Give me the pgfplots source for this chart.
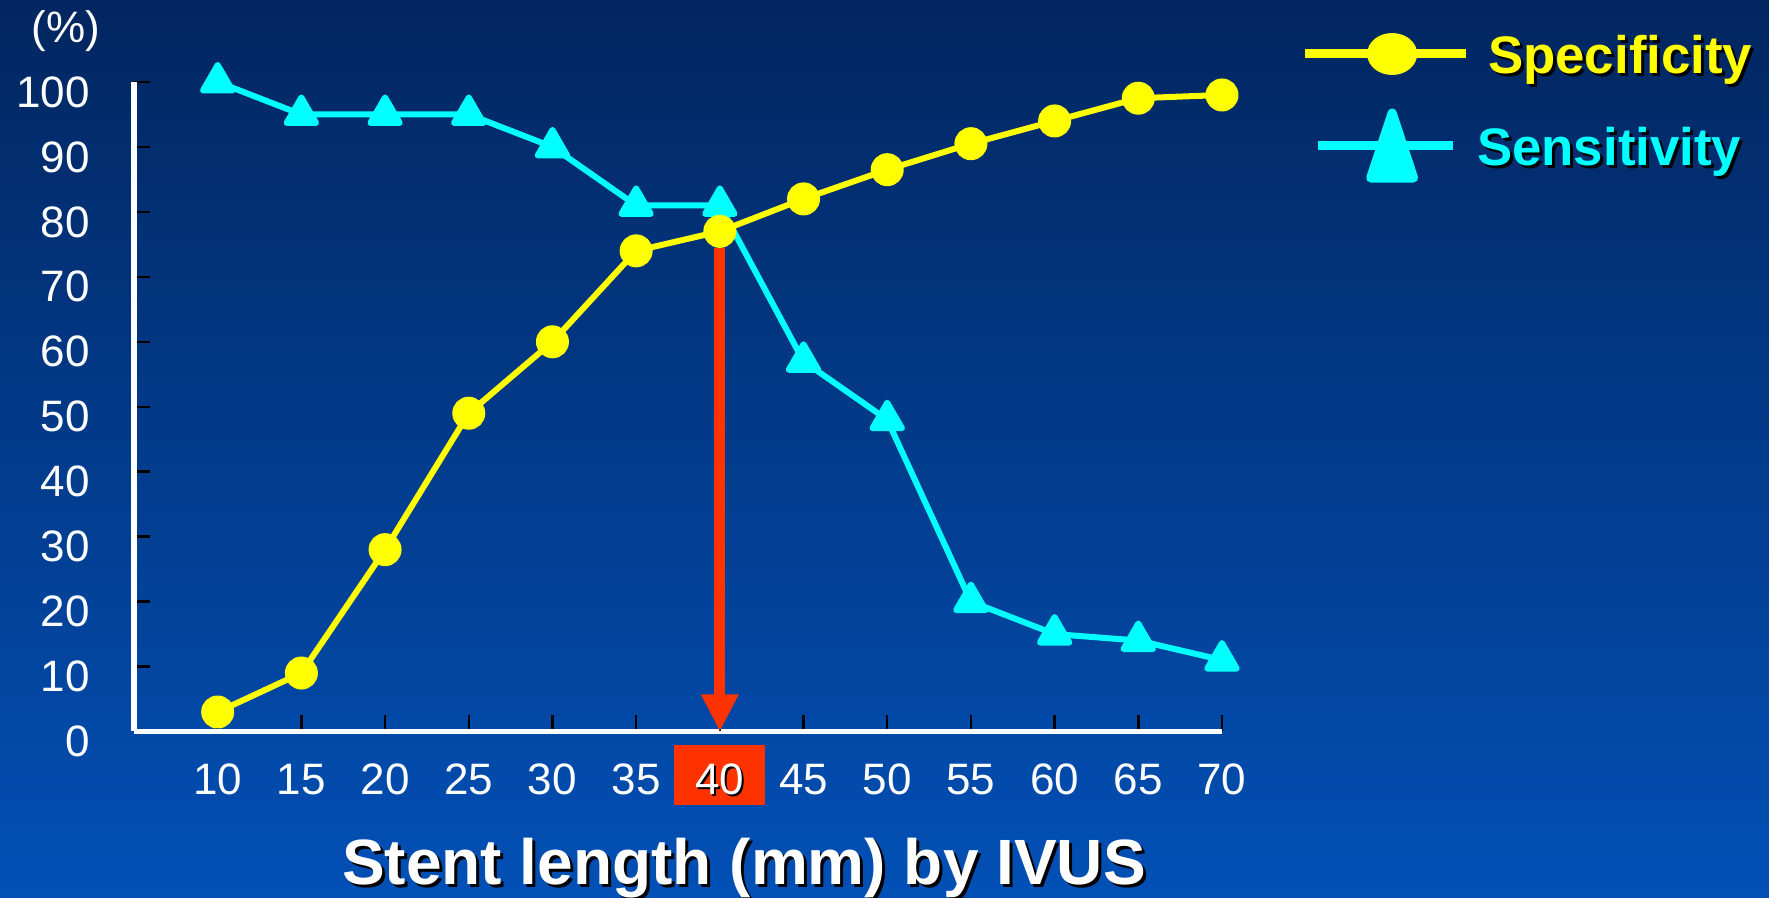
\documentclass[border=0pt]{standalone}
\usepackage{fontspec}
\setmainfont{Liberation Sans}
\usepackage{pgfplots}
\pgfplotsset{compat=1.18}
\usetikzlibrary{arrows.meta}

\definecolor{bgtop}{RGB}{2,38,96}
\definecolor{bgbot}{RGB}{2,80,182}
\definecolor{specc}{RGB}{255,255,0}
\definecolor{sensc}{RGB}{0,255,255}
\definecolor{cutc}{RGB}{255,51,0}

% text with a dark drop shadow
\newcommand\shtext[3][1.5pt]{\makebox[0pt][l]{\kern#1\raisebox{-#1}{\color{black}#3}}{\color{#2}#3}}

% legend symbols: a long line with a large marker in the middle
\pgfplotsset{
  sens legend/.style={legend image code/.code={
    \path[draw=none] (0pt,0pt) -- (80.5pt,0pt);
    \draw[##1, line width=4.5pt, mark repeat=2, mark phase=2,
      mark options={fill=sensc, draw=none, yshift=-5.2pt, xscale=1.46, yscale=2.55}]
      plot coordinates {(6.5pt,0pt) (43.5pt,0pt) (74pt,0pt)};}},
  spec legend/.style={legend image code/.code={
    \draw[##1, line width=4.5pt, mark repeat=2, mark phase=2,
      mark options={fill=specc, draw=none, xscale=1.52, yscale=1.22}]
      plot coordinates {(0pt,0pt) (43.5pt,0pt) (80.5pt,0pt)};}},
}

\pgfplotstableread{
len sens
10 100
15 95
20 95
25 95
30 90
35 81
40 81
45 57
50 48
55 20
60 15
65 14
70 11
}\sensdata

\pgfplotstableread{
len spec
10 3
15 9
20 28
25 49
30 60
35 74
40 77
45 82
50 86.5
55 90.5
60 94
65 97.5
70 98
}\specdata

\begin{document}
\begin{tikzpicture}
\path[use as bounding box] (0,0) rectangle (884.5pt,449pt);
\shade[top color=bgtop, bottom color=bgbot] (0,0) rectangle (884.5pt,449pt);
\begin{axis}[
  at={(67pt,83.25pt)}, anchor=south west,
  scale only axis, width=544pt, height=324.75pt,
  xmin=5, xmax=70, ymin=0, ymax=100,
  clip=false,
  axis lines=left,
  axis line style={white, line width=2.8pt, -},
  tick align=inside,
  major tick length=8pt,
  tick style={black, line width=1.2pt},
  xtick={5,10,...,70},
  xticklabels={,10,15,20,25,30,35,,45,50,55,60,65,70},
  ytick={0,10,...,100},
  /pgf/number format/assume math mode=true,
  every tick label/.append style={white, font=\fontsize{22}{26}\selectfont},
  xticklabel style={anchor=base, inner sep=0pt, yshift=-31.75pt},
  yticklabel style={anchor=east, inner sep=0pt, xshift=-22pt, yshift=-5pt},
  extra x ticks={40},
  extra x tick labels={\shtext[1pt]{white}{40}},
  extra x tick style={xticklabel style={fill=cutc, text height=20pt, text depth=0pt,
      inner ysep=5pt, inner xsep=0pt, minimum width=45.5pt}},
  xlabel={\shtext{white}{Stent length (mm) by IVUS}},
  xlabel style={at={(axis description cs:0.5607,-0.2363)}, anchor=base, inner sep=0pt,
      font=\bfseries\fontsize{32}{38}\selectfont},
  ylabel={(\%)},
  ylabel style={rotate=-90, at={(axis description cs:-0.0625,1.0785)}, anchor=center,
      inner sep=0pt, white, font=\fontsize{22}{26}\selectfont},
  reverse legend,
  legend cell align=left,
  legend style={at={(axis description cs:1.0723,1.0739)}, anchor=north west,
      draw=none, fill=none, inner sep=0pt, outer sep=0pt,
      row sep=19.5pt, column sep=8.75pt,
      nodes={inner sep=0pt, text height=20pt, text depth=0pt, anchor=west,
             font=\bfseries\fontsize{26.4}{31}\selectfont}},
]
\addplot[sensc, line width=3pt, line join=round, mark=triangle*, mark size=8.5pt,
  mark options={fill=sensc, draw=none}, sens legend]
  table[x=len, y=sens] {\sensdata};
\addlegendentry{\hspace*{-5.5pt}\shtext{sensc}{Sensitivity}}

\addplot[specc, line width=3pt, line join=round, mark=*, mark size=6.75pt,
  mark options={fill=specc, draw=none}, spec legend]
  table[x=len, y=spec] {\specdata};
\addlegendentry{\shtext{specc}{Specificity}}

% cut-off at 40 mm
\addplot[cutc, line width=5.5pt, -{Triangle[length=18.5pt, width=17.5pt]}, forget plot]
  coordinates {(40,74.5) (40,0)};
\end{axis}
\end{tikzpicture}
\end{document}
